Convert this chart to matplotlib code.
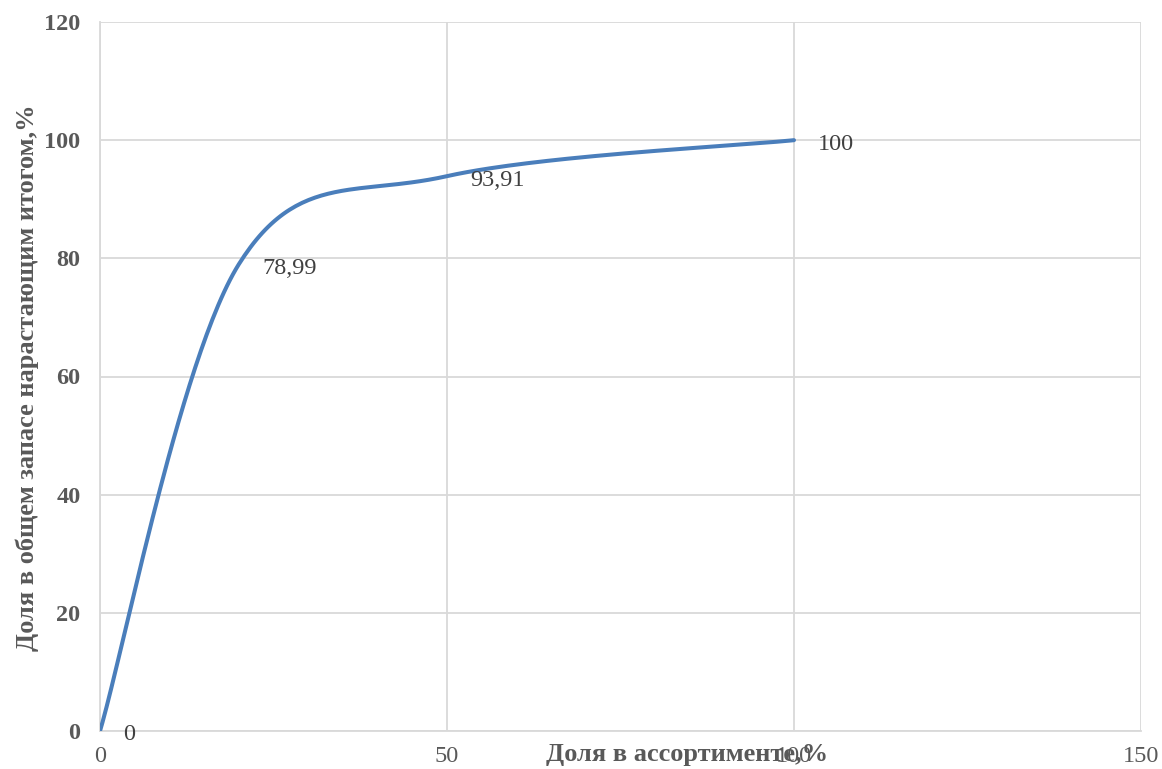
import numpy as np
import matplotlib
matplotlib.use("Agg")
import matplotlib.pyplot as plt

# Cumulative share of stock vs share of assortment (ABC curve)
share_assortment = [0, 20, 50, 100]
share_stock = [0, 78.99, 93.91, 100]
value_labels = ["0", "78,99", "93,91", "100"]
x_ticks = [0, 50, 100, 150]
y_ticks = [0, 20, 40, 60, 80, 100, 120]

plt.rcParams['font.family'] = ['Liberation Serif', 'DejaVu Serif']

GRAY = "#595959"
GRID = "#D9D9D9"
LINE = "#4A7EBB"


def smooth_curve(xs, ys, n=60):
    """Cardinal (Catmull-Rom style) Bezier through the points."""
    pts = np.column_stack([xs, ys]).astype(float)
    out = []
    for i in range(len(pts) - 1):
        p0 = pts[max(i - 1, 0)]
        p1 = pts[i]
        p2 = pts[i + 1]
        p3 = pts[min(i + 2, len(pts) - 1)]
        c1 = p1 + (p2 - p0) / 6.0
        c2 = p2 - (p3 - p1) / 6.0
        t = np.linspace(0, 1, n)[:, None]
        seg = ((1 - t) ** 3) * p1 + 3 * ((1 - t) ** 2) * t * c1 \
            + 3 * (1 - t) * t ** 2 * c2 + t ** 3 * p2
        out.append(seg if i == 0 else seg[1:])
    curve = np.vstack(out)
    return curve[:, 0], curve[:, 1]


fig = plt.figure(figsize=(11.62, 7.69), dpi=100)
ax = fig.add_axes([100 / 1162, 38 / 769, 1041 / 1162, 709 / 769])

cx, cy = smooth_curve(share_assortment, share_stock)
ax.plot(cx, cy, color=LINE, lw=2.9, solid_capstyle='round', zorder=3)

for x, y, lab in zip(share_assortment, share_stock, value_labels):
    ax.annotate(lab, (x, y), xytext=(17, -2.8), textcoords='offset points',
                ha='left', va='center', fontsize=17.5, color="#404040", zorder=4)

ax.set_xlim(0, 150)
ax.set_ylim(0, 120)
ax.set_xticks(x_ticks)
ax.set_yticks(y_ticks)
ax.set_xticklabels([str(v) for v in x_ticks], fontsize=17.5, color=GRAY)
ax.set_yticklabels([str(v) for v in y_ticks], fontsize=17.5, color=GRAY,
                   fontweight='bold')
ax.tick_params(axis='both', length=0)
ax.tick_params(axis='x', pad=11)
ax.tick_params(axis='y', pad=14)

ax.grid(True, color=GRID, lw=1.3)
ax.set_axisbelow(True)
for side in ['top', 'right']:
    ax.spines[side].set_visible(False)
for side in ['left', 'bottom']:
    ax.spines[side].set_color(GRID)
    ax.spines[side].set_linewidth(1.3)

fig.text(687 / 1162, 1 - 754 / 769, "Доля в ассортименте,%", ha='center',
         va='center', fontsize=19, fontweight='bold', color=GRAY)
fig.text(27 / 1162, 1 - 378 / 769, "Доля в общем запасе нарастающим итогом,%",
         ha='center', va='center', rotation=90, fontsize=19,
         fontweight='bold', color=GRAY)

fig.savefig("out.png", dpi=100, facecolor='white')
